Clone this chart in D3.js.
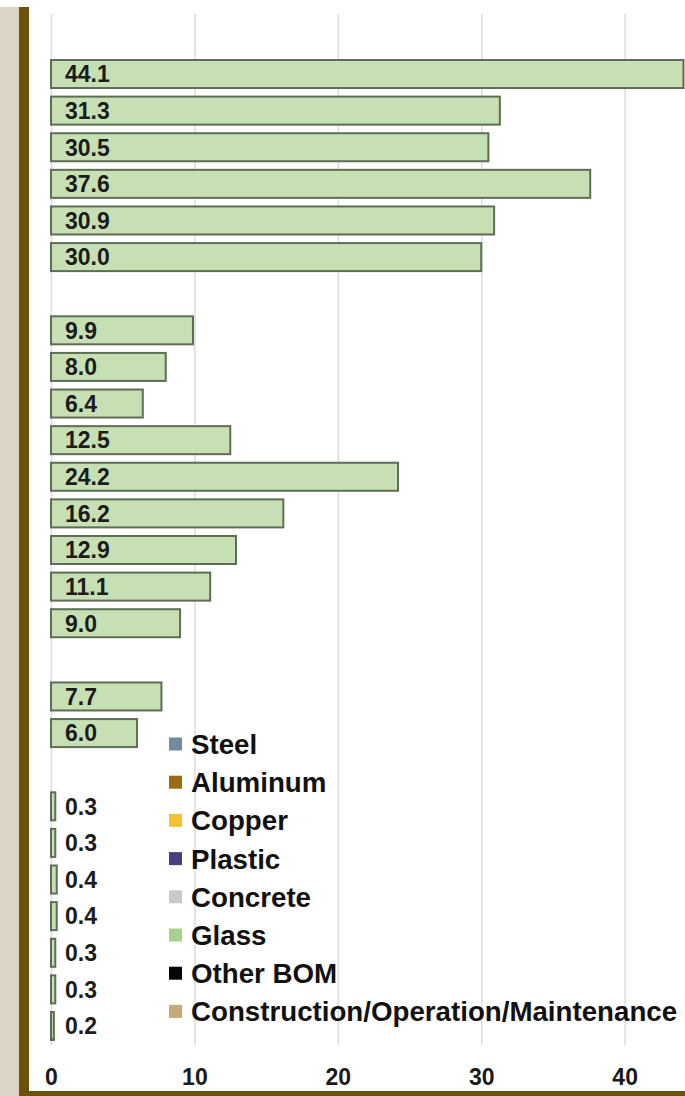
<!DOCTYPE html>
<html>
<head>
<meta charset="utf-8">
<script src="https://cdn.jsdelivr.net/npm/d3@7"></script>
<style>
  html, body { margin: 0; padding: 0; background: #fff; }
  svg { display: block; }
  text { font-family: "Liberation Sans", Arial, Helvetica, sans-serif; font-weight: bold; }
</style>
</head>
<body>
<div id="chart"></div>
<script>
// Bar groups, top to bottom; an empty slot separates consecutive groups
const group1 = [44.1, 31.3, 30.5, 37.6, 30.9, 30.0];
const group2 = [9.9, 8.0, 6.4, 12.5, 24.2, 16.2, 12.9, 11.1, 9.0];
const group3 = [7.7, 6.0];
const group4 = [0.3, 0.3, 0.4, 0.4, 0.3, 0.3, 0.2];
const groups = [group1, group2, group3, group4];

const tickValues = [0, 10, 20, 30, 40];
const legendLabels = ["Steel", "Aluminum", "Copper", "Plastic", "Concrete", "Glass", "Other BOM", "Construction/Operation/Maintenance"];
const legendPalette = ["#6f8c9e", "#9a6c12", "#f2c230", "#4a3f7e", "#c9c9c9", "#a9d18e", "#050505", "#c8a873"];

const W = 685, H = 1096;
const svg = d3.select("#chart").append("svg").attr("width", W).attr("height", H);

// frame: beige strip, brown rule on the left and along the bottom
svg.append("rect").attr("x", 0).attr("y", 7).attr("width", 19).attr("height", H - 7).attr("fill", "#ddd5c5");
svg.append("rect").attr("x", 19).attr("y", 7).attr("width", 10).attr("height", H - 7).attr("fill", "#6c5108");
svg.append("rect").attr("x", 19).attr("y", 1091).attr("width", W - 19).attr("height", 5).attr("fill", "#6c5108");

// slot list: bars plus one blank slot between groups
const slots = [];
groups.forEach((g, gi) => {
  if (gi > 0) slots.push({ key: "gap" + gi, value: null });
  g.forEach((v, i) => slots.push({ key: "g" + gi + "_" + i, value: v }));
});
const bars = slots.filter(s => s.value !== null);

const x = d3.scaleLinear().domain([0, 44]).range([51, 682]);
const y = d3.scaleBand().domain(slots.map(s => s.key)).range([55.7, 1044.3])
  .paddingInner(0.235).paddingOuter(0.1175);

// vertical gridlines
const gridTop = 14, gridBottom = 1045;
const grid = svg.append("g").attr("transform", `translate(0,${gridBottom})`)
  .call(d3.axisBottom(x).tickValues(tickValues).tickSize(-(gridBottom - gridTop)).tickFormat(""));
grid.select(".domain").remove();
grid.selectAll(".tick line").attr("stroke", "#dcdcdc").attr("stroke-width", 1.5);

// tick labels
const axis = svg.append("g").attr("transform", "translate(0,1069)")
  .call(d3.axisBottom(x).tickValues(tickValues).tickSize(0).tickPadding(0).tickFormat(d3.format("d")));
axis.select(".domain").remove();
axis.selectAll("text").attr("font-size", 23).attr("fill", "#1a1a1a")
  .attr("font-family", "'Liberation Sans', Arial, sans-serif").attr("font-weight", "bold");

// bars
svg.append("g").selectAll("rect").data(bars).join("rect")
  .attr("x", x(0))
  .attr("y", d => y(d.key))
  .attr("width", d => x(d.value) - x(0))
  .attr("height", y.bandwidth())
  .attr("fill", "#c6e0b4")
  .attr("stroke", "#5e6d56")
  .attr("stroke-width", 2);

// value labels
svg.append("g").selectAll("text").data(bars).join("text")
  .attr("x", 65)
  .attr("y", d => y(d.key) + y.bandwidth() / 2)
  .attr("dy", "0.36em")
  .attr("font-size", 23)
  .attr("fill", "#1c1c1c")
  .text(d => d3.format(".1f")(d.value));

// legend
const legend = svg.append("g");
const rowY = i => 744 + i * 38.2;
legend.selectAll("rect").data(legendLabels).join("rect")
  .attr("x", 169).attr("y", (d, i) => rowY(i) - 6.5)
  .attr("width", 13).attr("height", 13)
  .attr("fill", (d, i) => legendPalette[i]);
legend.selectAll("text").data(legendLabels).join("text")
  .attr("x", 191).attr("y", (d, i) => rowY(i))
  .attr("dy", "0.36em")
  .attr("font-size", 27.7)
  .attr("fill", "#111")
  .text(d => d);
</script>
</body>
</html>
